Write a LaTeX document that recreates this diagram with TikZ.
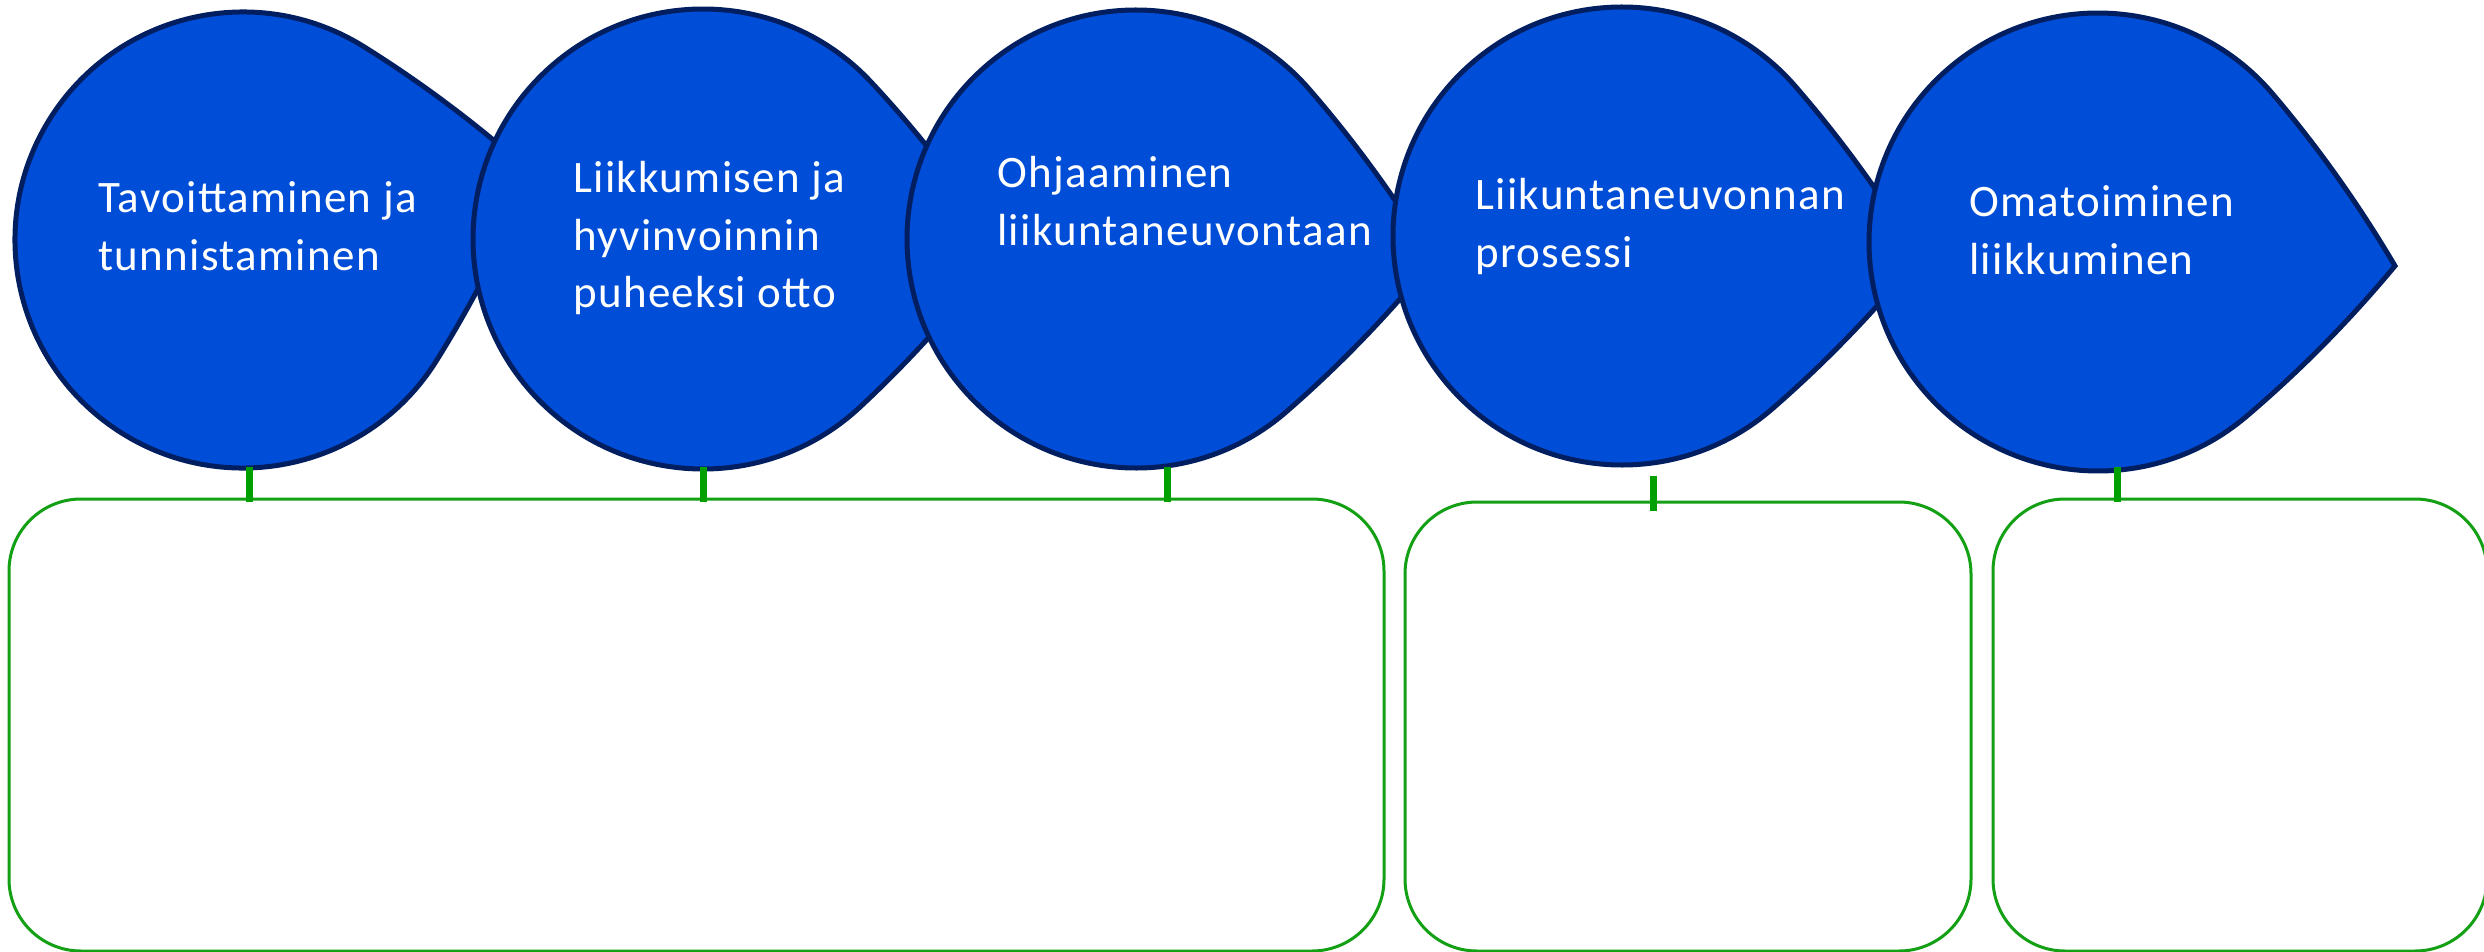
\documentclass[tikz,border=0pt]{standalone}
\usepackage{fontspec}
\setmainfont{Carlito}
\newfontfamily\lblfont[LetterSpace=3]{Carlito}
\definecolor{dropfill}{RGB}{0,77,215}
\definecolor{dropline}{RGB}{0,30,96}
\definecolor{boxgreen}{RGB}{20,160,20}
\definecolor{tickgreen}{RGB}{0,160,0}
\tikzset{
  tear/.style={fill=dropfill, draw=dropline, line width=5pt, line join=miter},
  lbl/.style={text=white, inner sep=0pt, anchor=base west, font=\lblfont\fontsize{45}{57.5}\selectfont},
  greenbox/.style={draw=boxgreen, line width=3pt, rounded corners=72pt},
  tickline/.style={draw=tickgreen, line width=7pt}
}
% teardrop: cx, cy (from top), radius, tip angle, adj
\newcommand{\tdrop}[5]{%
  \pgfmathsetmacro\tdA{#5*#3}%
  \pgfmathsetmacro\tdB{#5*#3/3}%
  \pgfmathsetmacro\tdC{#3*(#5+2*(1-#5)/3)}%
  \pgfmathsetmacro\tdD{2*#5*#3/3}%
  \path[tear, shift={(#1,-#2)}, rotate={#4-45}]
    (0,#3) arc[start angle=90, end angle=360, radius=#3]
    .. controls (#3,\tdB) and (\tdC,\tdD) .. (\tdA,\tdA)
    .. controls (\tdD,\tdC) and (\tdB,#3) .. (0,#3) -- cycle;%
}
\begin{document}
\begin{tikzpicture}[x=1pt, y=1pt]
\useasboundingbox (0,0) rectangle (2484,-952);
\fill[white] (0,0) rectangle (2484,-952);

% green boxes
\draw[greenbox] (9,-499) rectangle (1384,-951);
\draw[greenbox] (1405,-502) rectangle (1971,-951);
\draw[greenbox] (1993,-499) rectangle (2487,-951);

% teardrops
\tdrop{243}{240}{228}{13}{0.92}
\tdrop{703}{239}{230}{-2}{0.92}
\tdrop{1136}{239}{229}{-4}{0.92}
\tdrop{1622}{236}{229}{-4}{0.92}
\tdrop{2098}{242}{229}{-4.6}{0.92}

% labels
\node[lbl] (l1) at (98,-213) {\vtop{\hbox{Tavoittaminen ja}\hbox{tunnistaminen}}};
\node[lbl] (l2) at (573,-193) {\vtop{\hbox{Liikkumisen ja}\hbox{hyvinvoinnin}\hbox{puheeksi otto}}};
\node[lbl] (l3) at (997,-188) {\vtop{\hbox{Ohjaaminen}\hbox{liikuntaneuvontaan}}};
\node[lbl] (l4) at (1475,-210) {\vtop{\hbox{Liikuntaneuvonnan}\hbox{prosessi}}};
\node[lbl] (l5) at (1969,-217) {\vtop{\hbox{Omatoiminen}\hbox{liikkuminen}}};

% ticks
\coordinate (t1a) at (249,-467); \coordinate (t1b) at (249,-502);
\coordinate (t2a) at (703,-467); \coordinate (t2b) at (703,-502);
\coordinate (t3a) at (1167,-467); \coordinate (t3b) at (1167,-502);
\coordinate (t4a) at (1653,-476); \coordinate (t4b) at (1653,-511);
\coordinate (t5a) at (2117,-467); \coordinate (t5b) at (2117,-502);
\draw[tickline] (t1a) -- (t1b);
\draw[tickline] (t2a) -- (t2b);
\draw[tickline] (t3a) -- (t3b);
\draw[tickline] (t4a) -- (t4b);
\draw[tickline] (t5a) -- (t5b);
\end{tikzpicture}
\end{document}
